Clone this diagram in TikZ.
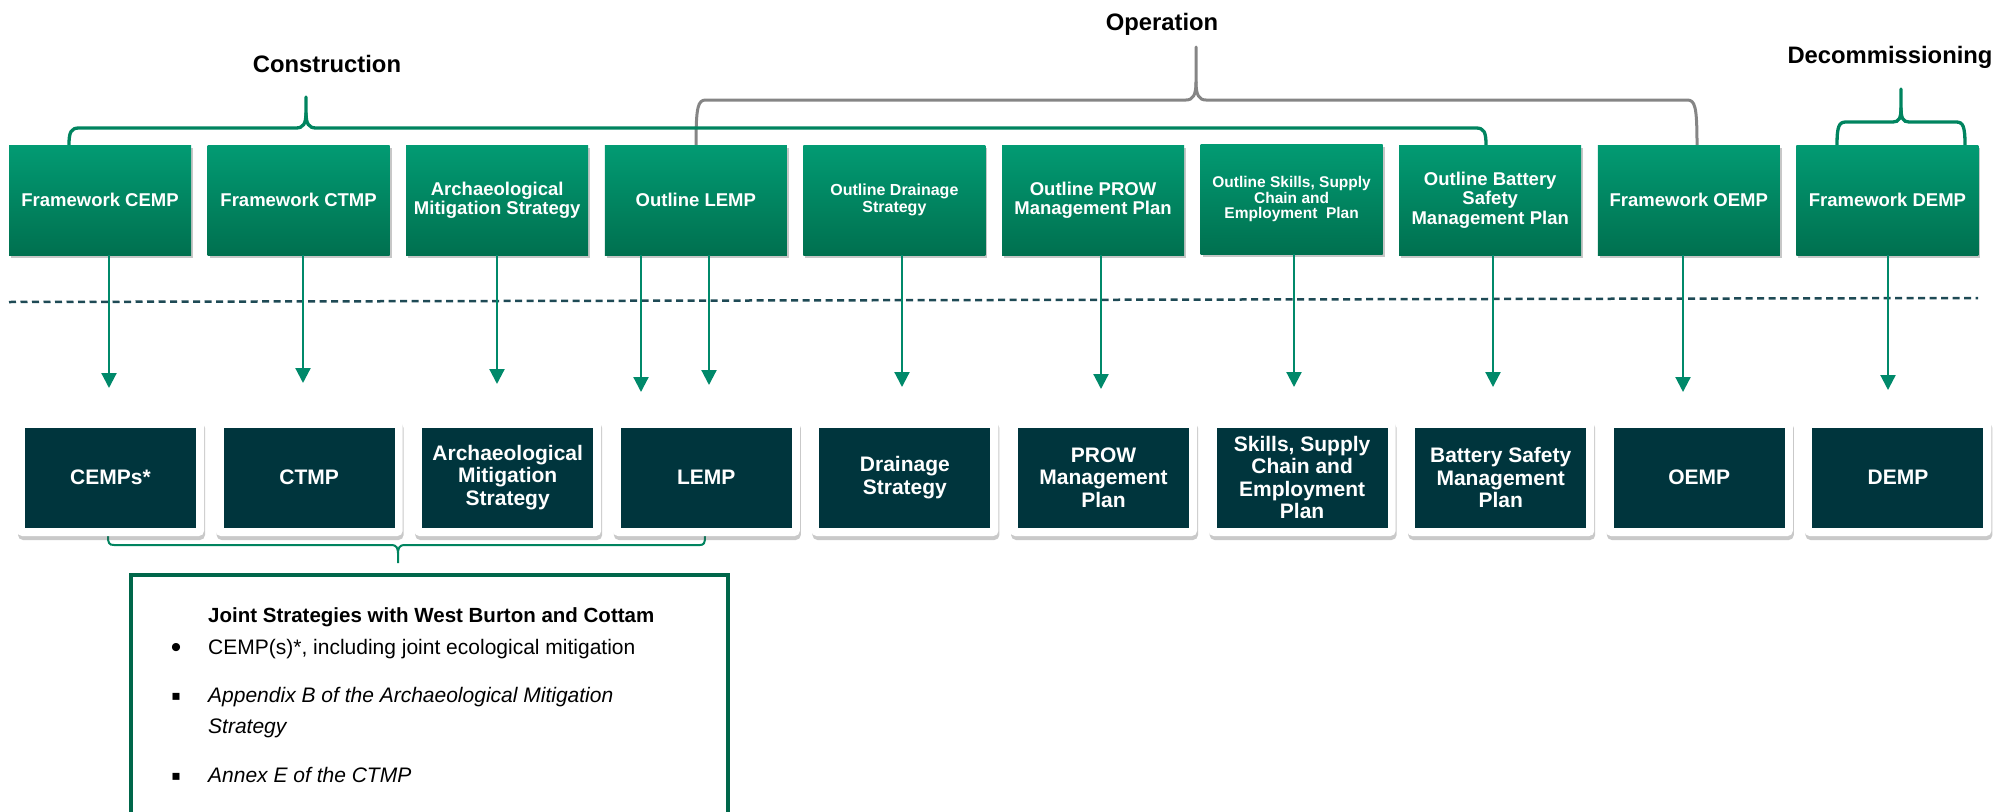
\documentclass[tikz,border=0pt]{standalone}
\usepackage{fontspec}
\setmainfont{Liberation Sans}
\newfontfamily\dejavu{DejaVu Sans}
\usetikzlibrary{arrows.meta,shadows}
\definecolor{topA}{HTML}{029B73}
\definecolor{topB}{HTML}{00704F}
\definecolor{darkbox}{HTML}{00353D}
\definecolor{arrgreen}{HTML}{00896A}
\definecolor{brgreen}{HTML}{00845F}
\definecolor{brgray}{HTML}{858585}
\definecolor{dashcol}{HTML}{1E4A55}
\definecolor{jointcol}{HTML}{00674A}
\begin{document}
\begin{tikzpicture}[x=1pt,y=-1pt,
  topbox/.style={minimum width=182pt, minimum height=110pt, inner sep=0pt, align=center,
    top color=topA, bottom color=topB, text=white,
    drop shadow={shadow xshift=2pt, shadow yshift=-3pt, opacity=0.22, fill=black},
    font=\bfseries\fontsize{18.5}{19}\selectfont},
  card/.style={minimum width=187pt, minimum height=117pt, inner sep=0pt, fill=white, rounded corners=5pt,
    drop shadow={shadow xshift=1pt, shadow yshift=-4pt, opacity=0.3, fill=black!70}},
  botbox/.style={minimum width=171pt, minimum height=100pt, inner sep=0pt, align=center,
    fill=darkbox, text=white, font=\bfseries\fontsize{21}{22.4}\selectfont},
  arr/.style={draw=arrgreen, line width=2.2pt, -{Triangle[length=15pt,width=15pt]}},
  gbr/.style={draw=brgreen, line width=3.3pt, line cap=round},
  graybr/.style={draw=brgray, line width=3pt, line cap=round},
  lowbr/.style={draw=brgreen, line width=2pt},
  dashline/.style={draw=dashcol, line width=2.5pt, dash pattern=on 7pt off 4.5pt},
  phase/.style={inner sep=0pt, anchor=base, font=\bfseries\fontsize{23.8}{28}\selectfont},
  jtext/.style={inner sep=0pt, anchor=base west, font=\fontsize{21}{24}\selectfont},
  bul/.style={inner sep=0pt, anchor=base, font=\fontsize{21}{24}\selectfont}
]
\useasboundingbox (0,0) rectangle (2015,811);

% phase labels
\node[phase] (lc) at (327,72) {Construction};
\node[phase] (lo) at (1162,30) {Operation};
\node[phase] (ld) at (1890,63) {Decommissioning};

% braces (operation gray first)
\draw[graybr] (696,145) .. controls (696,106) and (698,100) .. (706,100) -- (1186,100)
  .. controls (1193,100) and (1196,95) .. (1196,82) -- (1196,47);
\draw[graybr] (1196,82) .. controls (1196,95) and (1199,100) .. (1206,100) -- (1687,100)
  .. controls (1695,100) and (1697,106) .. (1697,145);
\draw[gbr] (69,145) .. controls (69,132) and (71,128) .. (79,128) -- (296,128)
  .. controls (303,128) and (306,124) .. (306,113) -- (306,97);
\draw[gbr] (306,113) .. controls (306,124) and (309,128) .. (316,128) -- (1476,128)
  .. controls (1484,128) and (1486,132) .. (1486,145);
\draw[gbr] (1837,145) .. controls (1837,126) and (1839,122) .. (1846,122) -- (1893,122)
  .. controls (1899,122) and (1901,118) .. (1901,108) -- (1901,89);
\draw[gbr] (1901,108) .. controls (1901,118) and (1903,122) .. (1909,122) -- (1956,122)
  .. controls (1963,122) and (1965,126) .. (1965,145);

% top boxes
\node[topbox] (t1) at (100.0,200) {Framework CEMP};
\node[topbox] (t2) at (298.6,200) {Framework CTMP};
\node[topbox] (t3) at (497.2,200) {Archaeological\\Mitigation Strategy};
\node[topbox] (t4) at (695.8,200) {Outline LEMP};
\node[topbox, font=\bfseries\fontsize{16}{16.5}\selectfont] (t5) at (894.4,200) {Outline Drainage\\Strategy};
\node[topbox] (t6) at (1093.0,200) {Outline PROW\\Management Plan};
\node[topbox, font=\bfseries\fontsize{15.5}{15.6}\selectfont] (t7) at (1291.6,199) {Outline Skills, Supply\\Chain and\\Employment\ \ Plan};
\node[topbox, font=\bfseries\fontsize{18.5}{19.5}\selectfont] (t8) at (1490.2,200) {Outline Battery\\Safety\\Management Plan};
\node[topbox] (t9) at (1688.8,200) {Framework OEMP};
\node[topbox] (t10) at (1887.4,200) {Framework DEMP};

% dashed separator
\draw[dashline] (9,302) -- (1978,298);

% arrow end points
\coordinate (e1) at (109,388);
\coordinate (e2) at (303,383);
\coordinate (e3) at (497,384);
\coordinate (e4a) at (641,392);
\coordinate (e4b) at (709,385);
\coordinate (e5) at (902,387);
\coordinate (e6) at (1101,389);
\coordinate (e7) at (1294,387);
\coordinate (e8) at (1493,387);
\coordinate (e9) at (1683,392);
\coordinate (e10) at (1888,390);
\draw[arr] (t1.south -| e1) -- (e1);
\draw[arr] (t2.south -| e2) -- (e2);
\draw[arr] (t3.south -| e3) -- (e3);
\draw[arr] (t4.south -| e4a) -- (e4a);
\draw[arr] (t4.south -| e4b) -- (e4b);
\draw[arr] (t5.south -| e5) -- (e5);
\draw[arr] (t6.south -| e6) -- (e6);
\draw[arr] (t7.south -| e7) -- (e7);
\draw[arr] (t8.south -| e8) -- (e8);
\draw[arr] (t9.south -| e9) -- (e9);
\draw[arr] (t10.south -| e10) -- (e10);

% lower brace
\draw[lowbr] (108,536) .. controls (108,543) and (109,545) .. (114,545) -- (392,545)
  .. controls (396,545) and (398,548) .. (398,553) -- (398,563);
\draw[lowbr] (398,553) .. controls (398,548) and (400,545) .. (404,545) -- (700,545)
  .. controls (704,545) and (705,543) .. (705,536);

% bottom cards
\foreach \i/\x in {1/110.5,2/309.1,3/507.7,4/706.3,5/904.9,6/1103.5,7/1302.1,8/1500.7,9/1699.3,10/1897.9}{
  \node[card] (c\i) at (\x,477.5) {};
}
\node[botbox] (b1) at (c1) {CEMPs*};
\node[botbox] (b2) at (c2) {CTMP};
\node[botbox] (b3) at (c3) {Archaeological\\Mitigation\\Strategy};
\node[botbox] (b4) at (c4) {LEMP};
\node[botbox] (b5) at (c5) {Drainage\\Strategy};
\node[botbox] (b6) at (c6) {PROW\\Management\\Plan};
\node[botbox] (b7) at (c7) {Skills, Supply\\Chain and\\Employment\\Plan};
\node[botbox] (b8) at (c8) {Battery Safety\\Management\\Plan};
\node[botbox] (b9) at (c9) {OEMP};
\node[botbox] (b10) at (c10) {DEMP};

% joint strategies box
\draw[draw=jointcol, line width=4pt] (131,840) -- (131,575) -- (728,575) -- (728,840);
\node[jtext, font=\bfseries\fontsize{20.5}{24}\selectfont] (jt) at (208,622) {Joint Strategies with West Burton and Cottam};
\node[bul, font=\fontsize{30}{30}\selectfont] (bu1) at (176,657) {•};
\node[jtext] (j1) at (208,654) {CEMP(s)*, including joint ecological mitigation};
\node[bul, font=\dejavu\fontsize{14}{16}\selectfont] (bu2) at (176,700) {▪};
\node[jtext, font=\itshape\fontsize{21}{24}\selectfont] (j2) at (208,702) {Appendix B of the Archaeological Mitigation};
\node[jtext, font=\itshape\fontsize{21}{24}\selectfont] (j2b) at (208,733) {Strategy};
\node[bul, font=\dejavu\fontsize{14}{16}\selectfont] (bu3) at (176,780) {▪};
\node[jtext, font=\itshape\fontsize{21}{24}\selectfont] (j3) at (208,782) {Annex E of the CTMP};
\end{tikzpicture}
\end{document}
